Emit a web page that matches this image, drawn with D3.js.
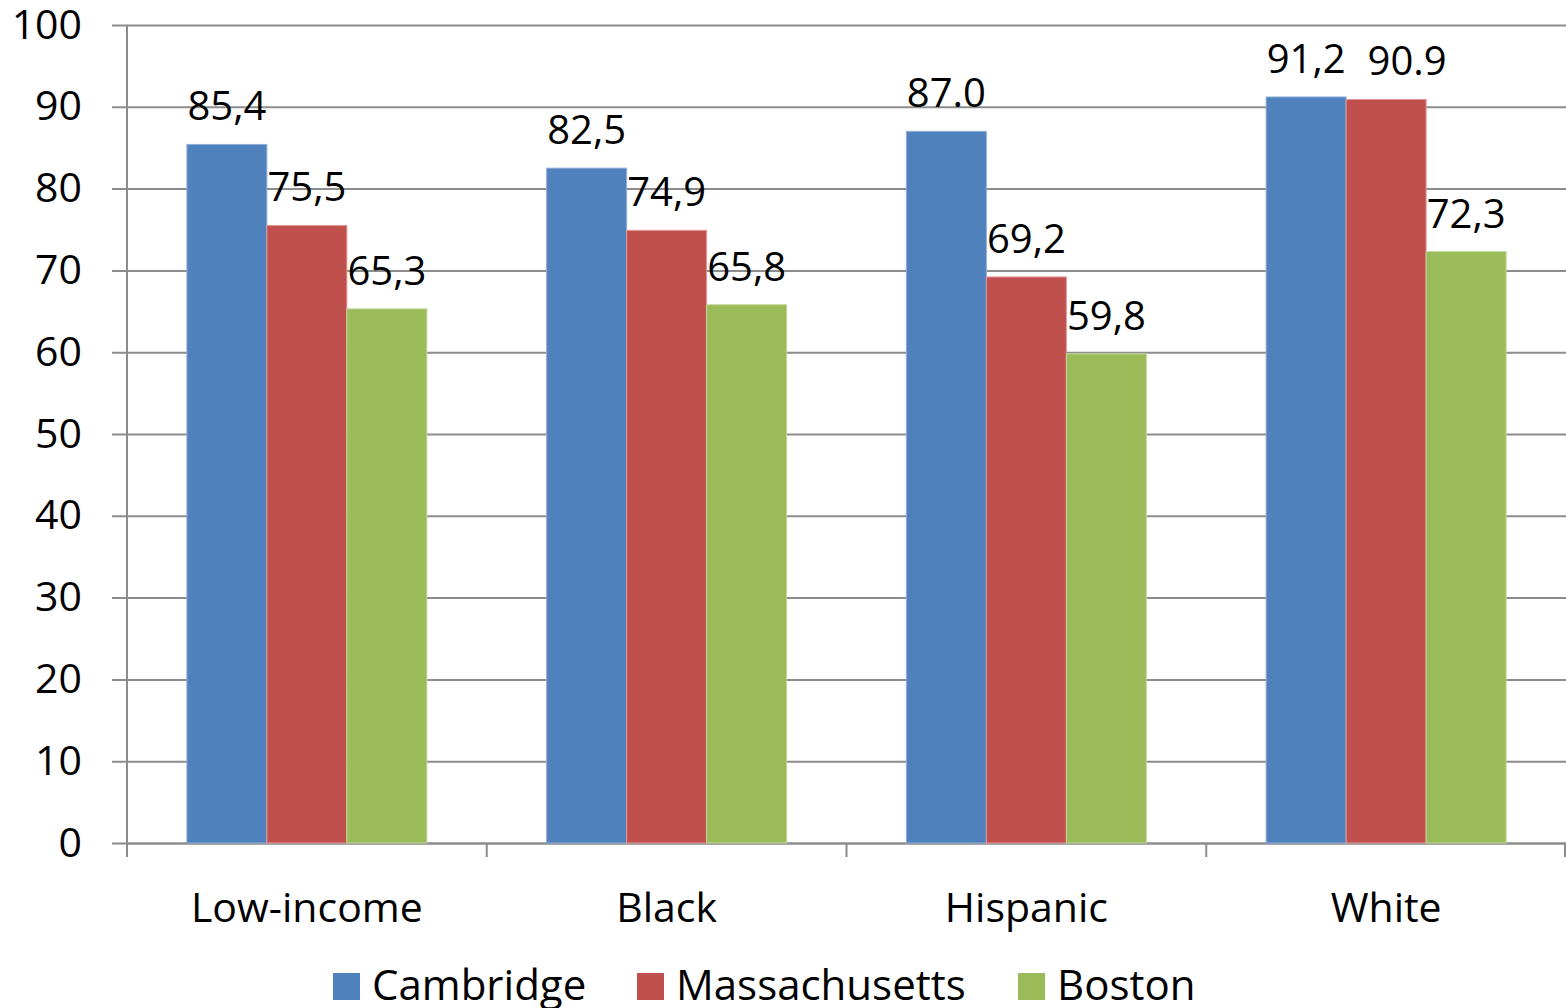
<!DOCTYPE html>
<html>
<head>
<meta charset="utf-8">
<script src="https://cdn.jsdelivr.net/npm/d3@7"></script>
<style>
  html, body { margin: 0; padding: 0; background: #fff; }
  svg { display: block; }
  text { font-family: "Open Sans", "Noto Sans", sans-serif; fill: #000; }
</style>
</head>
<body>
<svg id="chart" width="1566" height="1008"></svg>
<script>
// Graduation rates by group
const categories = ["Low-income", "Black", "Hispanic", "White"];
const seriesNames = ["Cambridge", "Massachusetts", "Boston"];
const cambridge = [85.4, 82.5, 87.0, 91.2];
const massachusetts = [75.5, 74.9, 69.2, 90.9];
const boston = [65.3, 65.8, 59.8, 72.3];
// Value labels as printed on the bars
const cambridgeLabels = ["85,4", "82,5", "87.0", "91,2"];
const massachusettsLabels = ["75,5", "74,9", "69,2", "90.9"];
const bostonLabels = ["65,3", "65,8", "59,8", "72,3"];
const yTicks = [0, 10, 20, 30, 40, 50, 60, 70, 80, 90, 100];

const colors = ["#4F81BD", "#C0504D", "#9BBB59"];
const edges = ["#8FAEDA", "#E29A98", "#C3D99B"];

const seriesValues = [cambridge, massachusetts, boston];
const seriesLabels = [cambridgeLabels, massachusettsLabels, bostonLabels];

const svg = d3.select("#chart");
const plotLeft = 127, plotRight = 1566, plotTop = 25, plotBottom = 843;
const gridColor = "#8C8C8C";

const x = d3.scaleBand().domain(categories).range([plotLeft, plotRight]).paddingInner(0).paddingOuter(0);
const bw = x.bandwidth();
const xs = d3.scaleBand().domain(seriesNames).range([(bw - 240) / 2, (bw + 240) / 2]);
const y = d3.scaleLinear().domain([0, 100]).range([plotBottom, plotTop]);

// Horizontal gridlines, extending left as tick marks
const yAxis = d3.axisLeft(y).tickValues(yTicks).tickSize(-(plotRight - plotLeft)).tickPadding(45).tickFormat(d3.format("d"));
const gy = svg.append("g").attr("transform", `translate(${plotLeft},0)`).call(yAxis);
gy.select(".domain").remove();
gy.selectAll(".tick line").attr("x1", -15).attr("stroke", gridColor).attr("stroke-width", 2);
gy.selectAll(".tick text").attr("font-size", 41).attr("fill", "#000")
  .style("font-family", "'Open Sans', sans-serif");

// Vertical axis line
svg.append("line").attr("x1", plotLeft).attr("x2", plotLeft).attr("y1", plotTop).attr("y2", plotBottom + 14)
  .attr("stroke", gridColor).attr("stroke-width", 2);

// Category axis along the bottom
const xAxis = d3.axisBottom(x).tickSize(0).tickPadding(50);
const gx = svg.append("g").attr("transform", `translate(0,${plotBottom})`).call(xAxis);
gx.select(".domain").attr("stroke", gridColor).attr("stroke-width", 2);
gx.selectAll(".tick text").attr("font-size", 41).attr("fill", "#000")
  .style("font-family", "'Open Sans', sans-serif");
// Tick marks between categories
const boundaries = categories.map(c => x(c)).concat([plotRight - 1]);
svg.append("g").selectAll("line").data(boundaries).join("line")
  .attr("x1", d => d).attr("x2", d => d).attr("y1", plotBottom).attr("y2", plotBottom + 14)
  .attr("stroke", gridColor).attr("stroke-width", 2);

// Bars and value labels
const labelNodes = categories.map(() => []);
seriesNames.forEach((name, si) => {
  const g = svg.append("g");
  g.selectAll("rect").data(categories).join("rect")
    .attr("x", (c) => x(c) + xs(name))
    .attr("y", (c, i) => y(seriesValues[si][i]))
    .attr("width", xs.bandwidth())
    .attr("height", (c, i) => y(0) - y(seriesValues[si][i]))
    .attr("fill", colors[si])
    .attr("stroke", edges[si]).attr("stroke-width", 1);
  g.selectAll("text").data(categories).join("text")
    .attr("x", (c) => x(c) + xs(name) + xs.bandwidth() / 2)
    .attr("y", (c, i) => y(seriesValues[si][i]) - 24)
    .attr("text-anchor", "middle")
    .attr("font-size", 40)
    .text((c, i) => seriesLabels[si][i])
    .each(function (c, i) { labelNodes[i].push(this); });
});

// Nudge labels to the right when they collide with the previous label of the group
labelNodes.forEach(nodes => {
  for (let k = 1; k < nodes.length; k++) {
    const a = nodes[k - 1].getBBox(), b = nodes[k].getBBox();
    const vOverlap = b.y < a.y + a.height && a.y < b.y + b.height;
    const gap = 22;
    if (vOverlap && b.x < a.x + a.width + gap) {
      const shift = a.x + a.width + gap - b.x;
      d3.select(nodes[k]).attr("x", +nodes[k].getAttribute("x") + shift);
    }
  }
});

// Legend
const legendX = [333, 637, 1018];
const lg = svg.append("g");
seriesNames.forEach((name, i) => {
  lg.append("rect").attr("x", legendX[i]).attr("y", 973).attr("width", 27).attr("height", 27).attr("fill", colors[i]);
  lg.append("text").attr("x", legendX[i] + 39).attr("y", 1000).attr("font-size", 42).text(name);
});
</script>
</body>
</html>
